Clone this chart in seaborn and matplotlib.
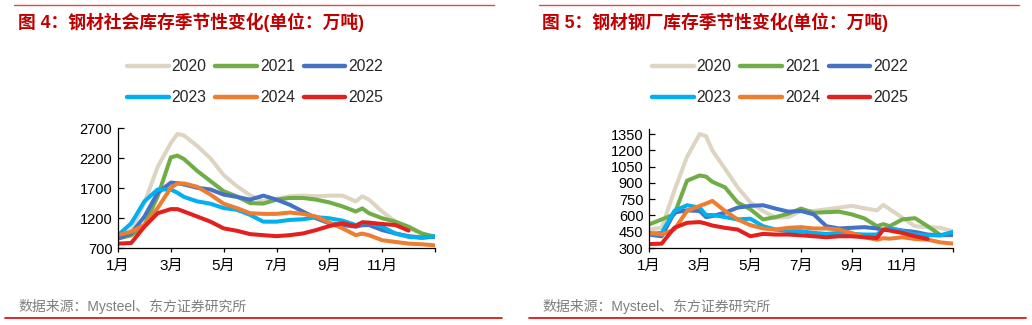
import numpy as np
import pandas as pd
import matplotlib
matplotlib.use("Agg")
import matplotlib.pyplot as plt
import seaborn as sns
from matplotlib.lines import Line2D

# ---------------- data ----------------
months = [1, 1.5, 2, 2.5, 3, 3.25, 3.5, 4, 4.5, 5, 5.5, 6, 6.5, 7, 7.5, 8, 8.5,
          9, 9.5, 10, 10.25, 10.5, 11, 11.5, 12, 12.5, 13]
years = ["2020", "2021", "2022", "2023", "2024", "2025"]
NA = np.nan

# 钢材社会库存 (万吨)
social_2020 = [886, 999, 1450, 2050, 2450, 2600, 2575, 2400, 2195, 1915, 1730, 1580, 1477, 1520,
               1562, 1573, 1562, 1573, 1573, 1477, 1560, 1506, 1308, 1139, 1027, 942, 886]
social_2021 = [858, 910, 1080, 1560, 2210, 2240, 2182, 1984, 1815, 1646, 1560, 1449, 1440, 1506,
               1534, 1534, 1506, 1460, 1393, 1308, 1360, 1280, 1196, 1139, 1055, 942, 886]
social_2022 = [858, 942, 1224, 1618, 1790, 1780, 1759, 1703, 1675, 1590, 1551, 1506, 1573, 1506,
               1421, 1308, 1196, 1111, 1083, 1055, 1080, 1083, 999, 942, 897, 875, 886]
social_2023 = [914, 1111, 1477, 1675, 1675, 1620, 1551, 1477, 1438, 1365, 1337, 1252, 1139, 1139,
               1168, 1179, 1213, 1196, 1156, 1083, 1115, 1122, 1055, 942, 886, 869, 897]
social_2024 = [914, 970, 1083, 1365, 1703, 1776, 1776, 1720, 1590, 1438, 1365, 1280, 1269, 1269,
               1291, 1269, 1224, 1122, 1027, 914, 940, 914, 830, 801, 773, 762, 745]
social_2025 = [773, 784, 1055, 1280, 1348, 1348, 1308, 1224, 1139, 1027, 987, 931, 914, 897,
               914, 942, 999, 1066, 1111, 1066, 1130, 1122, 1100, 1083, 990, NA, NA]

# 钢材钢厂库存 (万吨)
mill_2020 = [470, 486, 828, 1139, 1350, 1330, 1200, 1030, 859, 719, 641, 579, 585, 641,
             641, 657, 672, 688, 666, 647, 697, 657, 579, 501, 492, 486, 455]
mill_2021 = [517, 563, 610, 920, 968, 958, 910, 859, 719, 657, 563, 585, 616, 663,
             625, 630, 635, 610, 573, 501, 520, 501, 563, 575, 501, 420, 417]
mill_2022 = [424, 408, 626, 647, 641, 585, 594, 626, 672, 688, 694, 663, 635, 641,
             610, 501, 480, 486, 492, 480, 465, 480, 461, 448, 424, 417, 424]
mill_2023 = [430, 439, 641, 694, 672, 604, 604, 585, 563, 570, 501, 470, 455, 455,
             439, 430, 439, 430, 424, 424, 470, 480, 455, 424, 417, 417, 448]
mill_2024 = [439, 424, 470, 641, 688, 709, 734, 641, 563, 511, 480, 470, 486, 492,
             480, 480, 470, 439, 399, 377, 390, 386, 399, 383, 377, 352, 340]
mill_2025 = [336, 340, 486, 532, 539, 525, 507, 486, 470, 408, 430, 424, 424, 417,
             408, 399, 408, 408, 399, 392, 470, 461, 439, 408, 383, NA, NA]

month_ticks = [1, 3, 5, 7, 9, 11, 13]
month_labels = ["1月", "3月", "5月", "7月", "9月", "11月", ""]
social_yticks = [700, 1200, 1700, 2200, 2700]
mill_yticks = [300, 450, 600, 750, 900, 1050, 1200, 1350]

titles = ["图 4：钢材社会库存季节性变化(单位：万吨)", "图 5：钢材钢厂库存季节性变化(单位：万吨)"]
source = "数据来源：Mysteel、东方证券研究所"

colors = {"2020": "#DDD5C1", "2021": "#70AD47", "2022": "#4472C4",
          "2023": "#00B0F0", "2024": "#ED7D31", "2025": "#E3201E"}


def to_long(series_list):
    frames = []
    for y, vals in zip(years, series_list):
        frames.append(pd.DataFrame({"month": months, "value": vals, "year": y}))
    df = pd.concat(frames, ignore_index=True)
    return df.dropna()


social_df = to_long([social_2020, social_2021, social_2022, social_2023, social_2024, social_2025])
mill_df = to_long([mill_2020, mill_2021, mill_2022, mill_2023, mill_2024, mill_2025])

# ---------------- style ----------------
sns.set_theme(style="ticks")
plt.rcParams["font.family"] = ["Liberation Sans", "Noto Sans CJK SC", "DejaVu Sans"]
plt.rcParams["axes.unicode_minus"] = False

W, H = 1032, 325
fig = plt.figure(figsize=(W / 100, H / 100), dpi=100)
fig.patch.set_facecolor("white")


def fx(px):
    return px / W


def fy(py):
    return 1 - py / H


panels = [
    dict(df=social_df, rect=(118, 128, 435, 248), ylim=(700, 2700), yticks=social_yticks,
         x0=0),
    dict(df=mill_df, rect=(649, 128.6, 953, 248), ylim=(300, 1400), yticks=mill_yticks,
         x0=524),
]

for i, p in enumerate(panels):
    l, t, r, b = p["rect"]
    ax = fig.add_axes([fx(l), fy(b), fx(r - l), (b - t) / H])
    sns.lineplot(data=p["df"], x="month", y="value", hue="year", palette=colors,
                 hue_order=years, estimator=None, sort=False, linewidth=2.9,
                 legend=False, ax=ax)
    for ln in ax.lines:
        ln.set_solid_capstyle("round")
        ln.set_solid_joinstyle("round")
    ax.set_xlim(1, 13)
    ax.set_ylim(*p["ylim"])
    ax.set_xticks(month_ticks)
    ax.set_xticklabels(month_labels)
    ax.set_yticks(p["yticks"])
    ax.set_xlabel("")
    ax.set_ylabel("")
    ax.set_facecolor("none")
    for s in ["top", "right"]:
        ax.spines[s].set_visible(False)
    for s in ["left", "bottom"]:
        ax.spines[s].set_color("black")
        ax.spines[s].set_linewidth(0.9)
    ax.tick_params(axis="y", direction="in", length=4, width=0.9, pad=4,
                   labelsize=10.5, colors="black")
    ax.tick_params(axis="x", direction="out", length=3, width=0.9, pad=5,
                   labelsize=11, colors="black")

    x0 = p["x0"]
    # legend (manual order so rows read 2020-2022 / 2023-2025)
    order = ["2020", "2023", "2021", "2024", "2022", "2025"]
    handles = [Line2D([0], [0], color=colors[y], lw=3.2, solid_capstyle="round") for y in order]
    fig.legend(handles, order, loc="upper left",
               bbox_to_anchor=(fx(127 + x0 + (1 if i else 0)), fy(59)),
               ncol=3, frameon=False, fontsize=11.3, handlelength=2.65,
               handletextpad=0.2, columnspacing=0.55, labelspacing=1.05,
               borderpad=0, borderaxespad=0)

    # titles, rules, source
    tx = 18 if i == 0 else 542.5
    fig.text(fx(tx), fy(22), titles[i], ha="left", va="center", fontsize=12.8,
             fontweight="bold", color="#C00000")
    fig.text(fx(tx), fy(307), source, ha="left", va="center", fontsize=10,
             color="#7F7F7F")
    top = (14, 494) if i == 0 else (539, 1019)
    bot = (5, 502) if i == 0 else (529, 1026)
    fig.add_artist(Line2D([fx(top[0]), fx(top[1])], [fy(5.3)] * 2,
                          color="#E04848", lw=1.0))
    fig.add_artist(Line2D([fx(bot[0]), fx(bot[1])], [fy(318.3)] * 2,
                          color="#E00000", lw=1.2))

fig.savefig("out.png", dpi=100, facecolor="white")
